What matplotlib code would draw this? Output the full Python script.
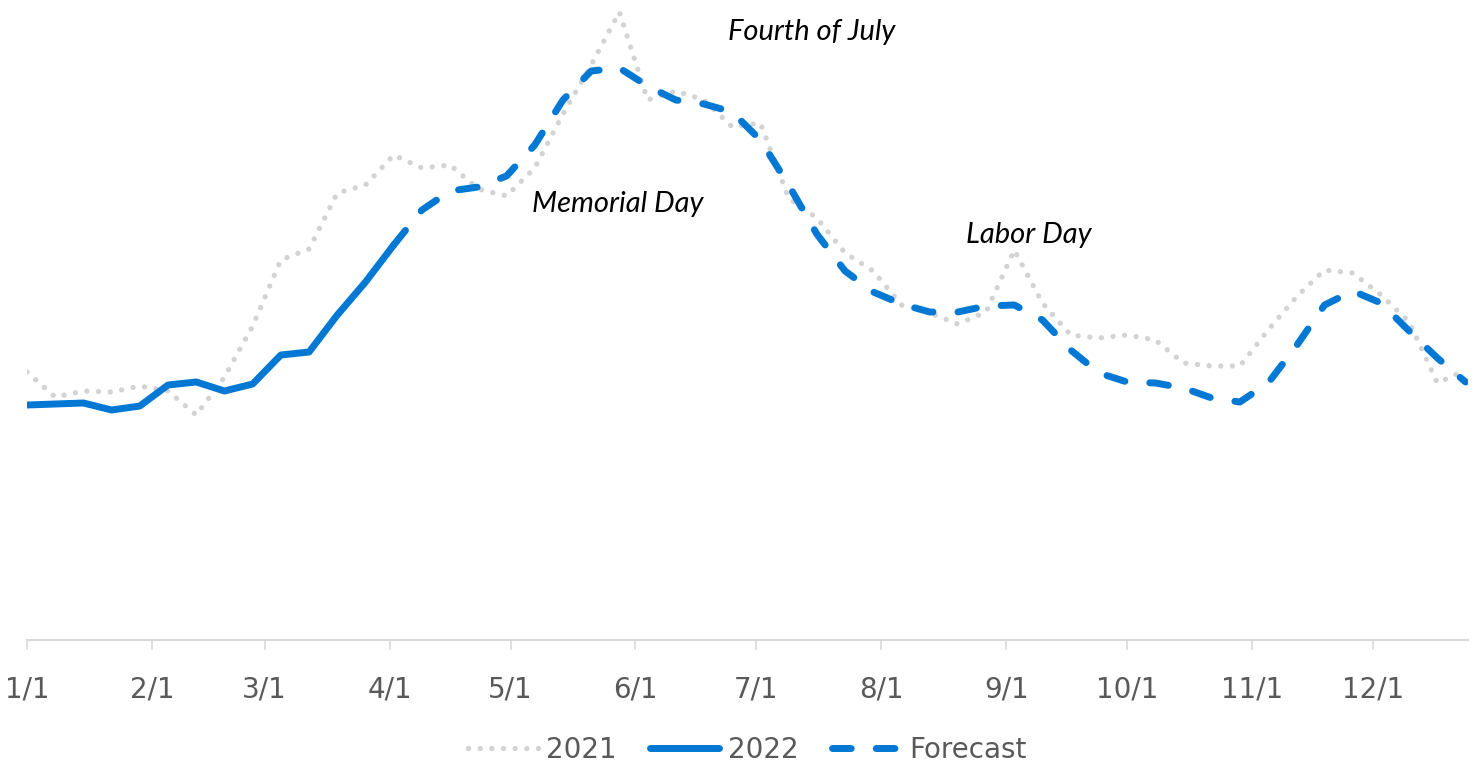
import matplotlib
matplotlib.use('Agg')
import matplotlib.pyplot as plt
import numpy as np

# weekly points, day of year
weeks=np.arange(52)*7
y2021=[268,243,249,248,254,249,225,263,314,380,391,447,455,485,472,475,451,444,472,526,
       575,628,540,549,540,513,517,442,422,387,369,335,327,316,328,390,337,305,302,305,
       300,277,274,274,310,343,370,367,345,318,257,270]
y2022=[235,236,237,230,234,255,258,249,256,285,288,325,358,395]
yfcst=[395,430,449,453,464,495,540,569,572,554,540,536,528,500,455,406,369,348,336,328,
       328,334,335,320,290,267,258,257,252,242,238,257,294,335,349,337,309,282,258]
month_days=[0,31,59,90,120,151,181,212,243,273,304,334]
month_labels=['1/1','2/1','3/1','4/1','5/1','6/1','7/1','8/1','9/1','10/1','11/1','12/1']

blue='#0078D4'
gray='#D3D3D3'
tickfont=['DejaVu Sans']
notefont=['Lato','DejaVu Sans']

fig=plt.figure(figsize=(14.73,7.67),dpi=100)
ax=fig.add_axes([27/1473.,127/767.,1441/1473.,640/767.])

ax.plot(weeks,y2021,color=gray,lw=3.8,linestyle=(0,(0.01,2.2)),dash_capstyle='round',label='2021')
ax.plot(weeks[:len(y2022)],y2022,color=blue,lw=5,solid_capstyle='round',solid_joinstyle='round',label='2022')
ax.plot(weeks[len(y2022)-1:],yfcst,color=blue,lw=5,linestyle=(0,(2.7,3.6)),dash_capstyle='round',label='Forecast')

ax.set_xlim(0,357.6)
ax.set_ylim(0,640)
for s in ['top','right','left']:
    ax.spines[s].set_visible(False)
ax.spines['bottom'].set_color('#D9D9D9')
ax.spines['bottom'].set_linewidth(1.5)
ax.set_yticks([])
ax.set_xticks(month_days)
ax.set_xticklabels(month_labels,family=tickfont,fontsize=20,color='#595959')
ax.tick_params(axis='x',direction='out',length=7.5,width=1.2,color='#D9D9D9',pad=18)

# holiday notes
ax.text(174,608,'Fourth of July',fontsize=21,style='italic',family=notefont,va='center',ha='left')
ax.text(125.3,436,'Memorial Day',fontsize=21,style='italic',family=notefont,va='center',ha='left')
ax.text(233,405,'Labor Day',fontsize=21,style='italic',family=notefont,va='center',ha='left')

leg=ax.legend(loc='center',bbox_to_anchor=(0.5,-0.172),ncol=3,frameon=False,
              prop={'family':tickfont,'size':20},handlelength=2.5,handletextpad=0.3,columnspacing=1.2)
for t in leg.get_texts():
    t.set_color('#595959')

fig.savefig('out.png',dpi=100)
